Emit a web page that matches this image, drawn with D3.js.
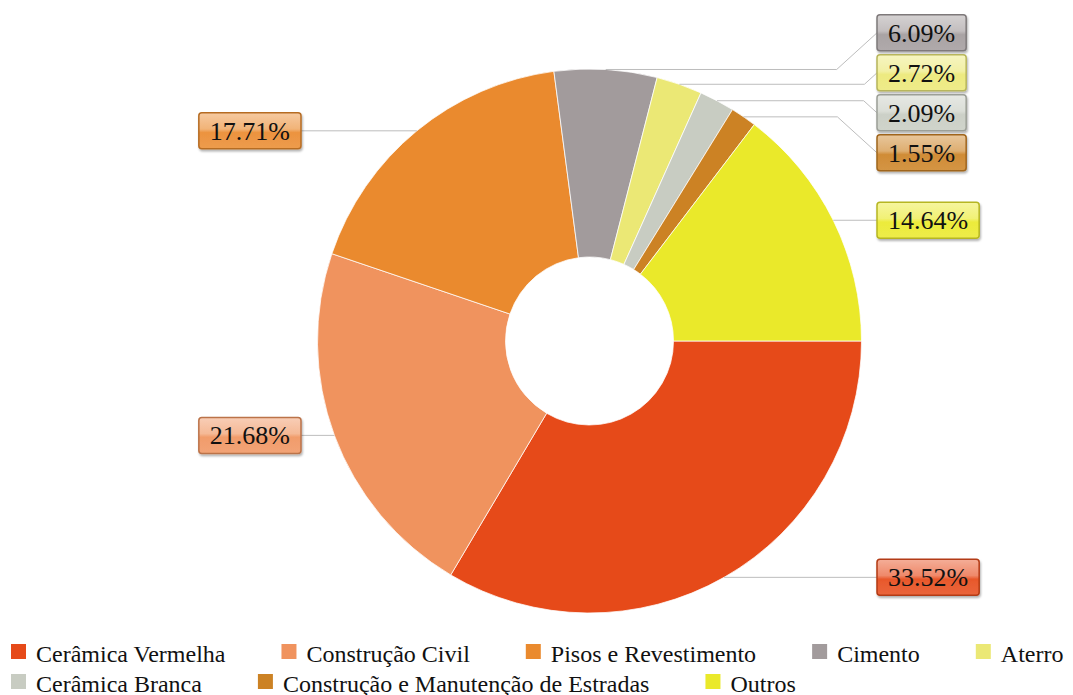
<!DOCTYPE html>
<html>
<head>
<meta charset="utf-8">
<script src="https://cdn.jsdelivr.net/npm/d3@7/dist/d3.min.js"></script>
<style>
  html, body { margin: 0; padding: 0; background: #fff; }
  svg { display: block; }
</style>
</head>
<body>
<svg id="chart" width="1073" height="695"></svg>
<script>
// Share of each sector (percent)
const categories = [
  "Cerâmica Vermelha",
  "Construção Civil",
  "Pisos e Revestimento",
  "Cimento",
  "Aterro",
  "Cerâmica Branca",
  "Construção e Manutenção de Estradas",
  "Outros"
];
const shares = [33.52, 21.68, 17.71, 6.09, 2.72, 2.09, 1.55, 14.64];
const colors = ["#e64a19", "#f0935e", "#ea8a2e", "#a29b9c", "#ebe875", "#c8ccc2", "#cc8224", "#eae92a"];
// legend rows
const legendRows = [[0, 1, 2, 3, 4], [5, 6, 7]];

const FONT = '"Liberation Serif"';

const svg = d3.select("#chart");
const cx = 589.5, cy = 341, rOuter = 272, rInner = 84;

const data = categories.map((c, i) => ({ name: c, value: shares[i], color: colors[i], i }));

// --- defs: gradients and shadow for the value boxes
const defs = svg.append("defs");
const shadow = defs.append("filter").attr("id", "boxShadow")
  .attr("x", "-20%").attr("y", "-20%").attr("width", "140%").attr("height", "150%");
shadow.append("feDropShadow").attr("dx", 1).attr("dy", 2).attr("stdDeviation", 1.2)
  .attr("flood-color", "#000").attr("flood-opacity", 0.3);

function mix(c, w, t) { return d3.interpolateRgb(c, w)(t); }
data.forEach(d => {
  const g = defs.append("linearGradient").attr("id", "grad" + d.i)
    .attr("x1", 0).attr("y1", 0).attr("x2", 0).attr("y2", 1);
  g.append("stop").attr("offset", "0%").attr("stop-color", mix(d.color, "#fff", 0.55));
  g.append("stop").attr("offset", "45%").attr("stop-color", mix(d.color, "#fff", 0.35));
  g.append("stop").attr("offset", "55%").attr("stop-color", mix(d.color, "#fff", 0.08));
  g.append("stop").attr("offset", "100%").attr("stop-color", mix(d.color, "#fff", 0.15));
});

// --- donut
const pie = d3.pie().sort(null).value(d => d.value)
  .startAngle(Math.PI / 2).endAngle(Math.PI / 2 + 2 * Math.PI);
const arcs = pie(data);
const arcGen = d3.arc().innerRadius(rInner).outerRadius(rOuter);

const gPie = svg.append("g").attr("transform", `translate(${cx},${cy})`);
gPie.selectAll("path").data(arcs).join("path")
  .attr("d", arcGen)
  .attr("fill", d => d.data.color)
  .attr("stroke", "#fff")
  .attr("stroke-opacity", 0.75)
  .attr("stroke-width", 1);

// --- value labels
const fmt = v => v.toFixed(2) + "%";
const labels = arcs.map(a => {
  const mid = (a.startAngle + a.endAngle) / 2;
  const px = cx + rOuter * Math.sin(mid);
  const py = cy - rOuter * Math.cos(mid);
  return { a, px, py, y: py, right: Math.sin(mid) >= 0, d: a.data };
});

// spread crowded labels apart on each side, keeping clusters centred
const minGap = 40;
function spread(list) {
  list.sort((p, q) => p.py - q.py);
  let clusters = list.map(l => ({ items: [l], center: l.py }));
  let changed = true;
  while (changed) {
    changed = false;
    for (let k = 0; k < clusters.length - 1; k++) {
      const A = clusters[k], B = clusters[k + 1];
      const aBottom = A.center + (A.items.length - 1) * minGap / 2;
      const bTop = B.center - (B.items.length - 1) * minGap / 2;
      if (bTop - aBottom < minGap) {
        const items = A.items.concat(B.items);
        const center = d3.mean(items, l => l.py);
        clusters.splice(k, 2, { items, center });
        changed = true;
        break;
      }
    }
  }
  clusters.forEach(c => {
    const top = c.center - (c.items.length - 1) * minGap / 2;
    c.items.forEach((l, j) => { l.y = top + j * minGap; });
  });
}
spread(labels.filter(l => l.right));
spread(labels.filter(l => !l.right));

const boxRightX = 877, boxLeftEnd = 301, boxH = 36, pad = 11;
const gLab = svg.append("g");

labels.forEach(l => {
  const g = gLab.append("g");
  const t = g.append("text")
    .style("font-family", FONT)
    .attr("font-size", 26)
    .attr("fill", "#111")
    .text(fmt(l.d.value));
  const tw = t.node().getComputedTextLength();
  const bw = tw + 2 * pad;
  const bx = l.right ? boxRightX : boxLeftEnd - bw;
  const by = l.y - boxH / 2;
  const edgeX = l.right ? bx : bx + bw;
  const dy = Math.abs(l.y - l.py);
  const elbowX = l.right ? edgeX - dy * 1.1 : edgeX + dy * 1.1;

  gLab.insert("path", ":first-child")
    .attr("d", `M${l.px},${l.py}L${elbowX},${l.py}L${edgeX},${l.y}`)
    .attr("fill", "none")
    .attr("stroke", "#bdbdbd")
    .attr("stroke-width", 1);

  g.insert("rect", "text")
    .attr("x", bx).attr("y", by).attr("width", bw).attr("height", boxH)
    .attr("rx", 3).attr("ry", 3)
    .attr("fill", `url(#grad${l.d.i})`)
    .attr("stroke", d3.color(l.d.color).darker(0.7))
    .attr("stroke-width", 1.5)
    .attr("filter", "url(#boxShadow)");
  t.attr("x", bx + pad).attr("y", l.y + 9);
});

// --- legend
const rowY = [644, 674];
const gLeg = svg.append("g");
legendRows.forEach((row, r) => {
  let x = 11;
  row.forEach(idx => {
    const item = gLeg.append("g");
    item.append("rect")
      .attr("x", x).attr("y", rowY[r]).attr("width", 15).attr("height", 15)
      .attr("fill", colors[idx]);
    const t = item.append("text")
      .attr("x", x + 25).attr("y", rowY[r] + 17.5)
      .style("font-family", FONT)
      .attr("font-size", 24)
      .attr("fill", "#111")
      .text(categories[idx]);
    x += 25 + t.node().getComputedTextLength() + 56;
  });
});
</script>
</body>
</html>
